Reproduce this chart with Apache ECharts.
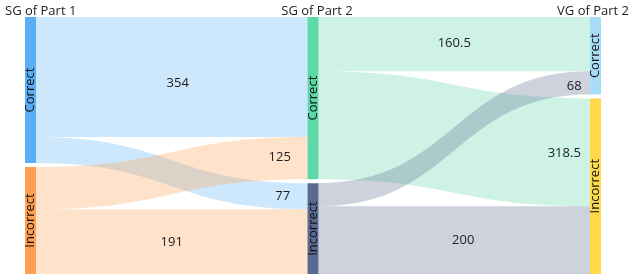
<!DOCTYPE html>
<html><head><meta charset="utf-8">
<script src="https://cdn.jsdelivr.net/npm/echarts@6/dist/echarts.min.js"></script>
<style>html,body{margin:0;padding:0;background:#fff}#c{width:634px;height:275px}</style>
</head><body><div id="c"></div>
<script>
const columnTitles = ['SG of Part 1', 'SG of Part 2', 'VG of Part 2'];
const nodeNames = ['P1 Correct', 'P1 Incorrect', 'P2 Correct', 'P2 Incorrect', 'VG Correct', 'VG Incorrect'];
const nodeLabels = ['Correct', 'Incorrect', 'Correct', 'Incorrect', 'Correct', 'Incorrect'];
const linkSources = ['P1 Correct', 'P1 Correct', 'P1 Incorrect', 'P1 Incorrect', 'P2 Correct', 'P2 Correct', 'P2 Incorrect', 'P2 Incorrect'];
const linkTargets = ['P2 Correct', 'P2 Incorrect', 'P2 Correct', 'P2 Incorrect', 'VG Correct', 'VG Incorrect', 'VG Correct', 'VG Incorrect'];
const linkValues = [354, 77, 125, 191, 160.5, 318.5, 68, 200];

const nodeColors = ['#5aaef5', '#ff9f50', '#5ed8a8', '#5a6a90', '#a8ddf8', '#ffd94a'];
const labelOffsets = [[6, 6], [111, 23], [108, -16], [0, 1], [0, -1], [110, 14], [120, -53], [9, 0]];

const font = 'Open Sans';
const chart = echarts.init(document.getElementById('c'));
chart.setOption({
  animation: false,
  textStyle: { fontFamily: font },
  title: [
    { text: columnTitles[0], left: 0, top: 0, textStyle: { fontSize: 13, fontWeight: 'normal', color: '#222', fontFamily: font } },
    { text: columnTitles[1], left: 'center', top: 0, textStyle: { fontSize: 13, fontWeight: 'normal', color: '#222', fontFamily: font } },
    { text: columnTitles[2], right: 0, top: 0, textStyle: { fontSize: 13, fontWeight: 'normal', color: '#222', fontFamily: font } }
  ],
  series: [{
    type: 'sankey',
    left: 25, right: 33, top: 17, bottom: 1,
    nodeWidth: 11, nodeGap: 4,
    layoutIterations: 0,
    nodeAlign: 'justify',
    draggable: false,
    emphasis: { disabled: true },
    label: { show: true, position: 'inside', rotate: 90, fontSize: 13, color: '#111', fontFamily: font },
    edgeLabel: { show: true, fontSize: 13, color: '#222', fontFamily: font, formatter: p => String(p.value) },
    lineStyle: { color: 'source', opacity: 0.3, curveness: 0.5 },
    data: nodeNames.map((n, i) => ({ name: n, itemStyle: { color: nodeColors[i] }, label: { formatter: nodeLabels[i] } })),
    links: linkSources.map((s, i) => ({ source: s, target: linkTargets[i], value: linkValues[i], edgeLabel: { offset: labelOffsets[i] } }))
  }]
});
</script></body></html>
